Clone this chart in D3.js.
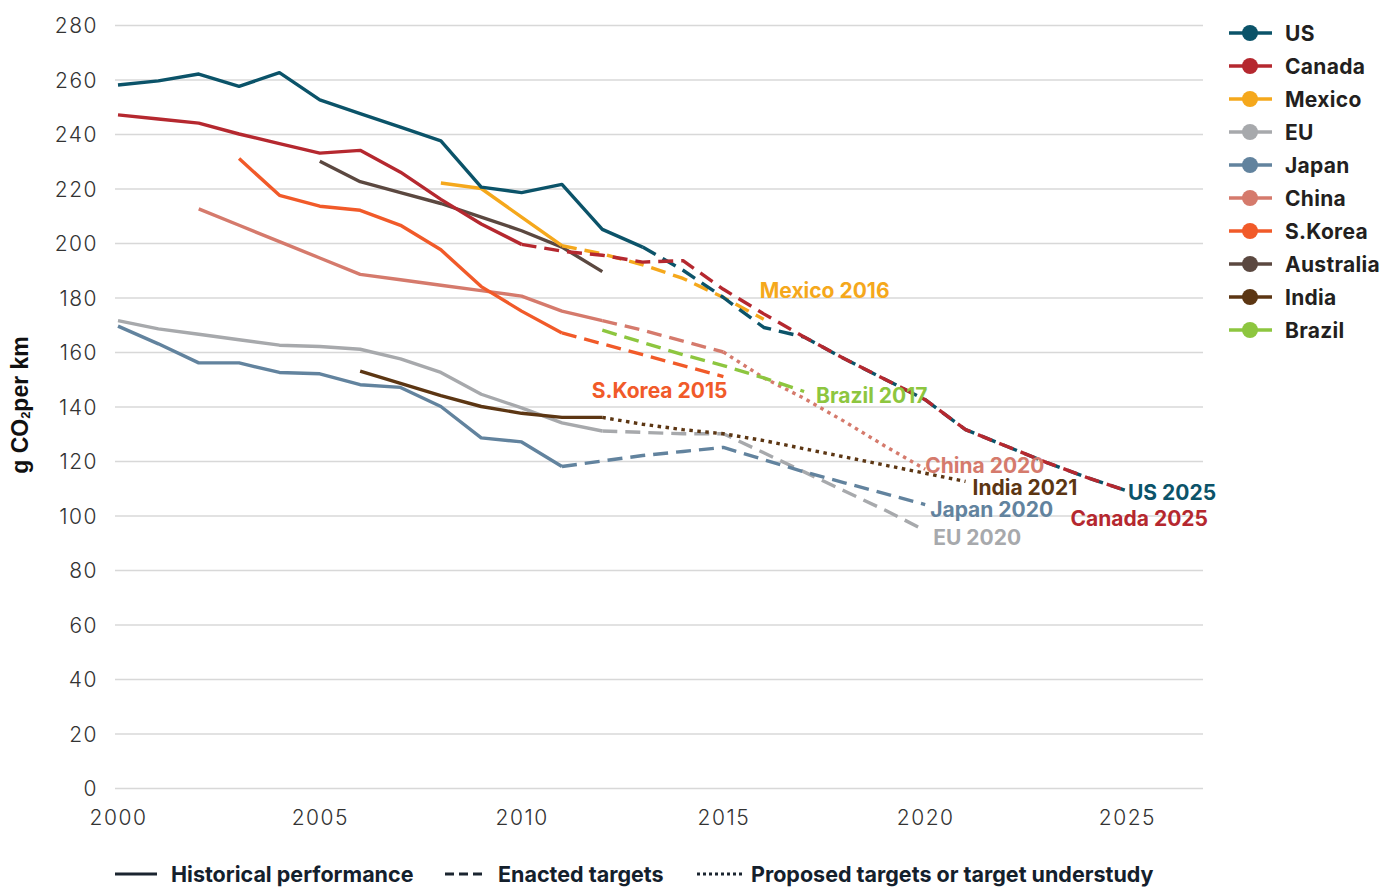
<!DOCTYPE html>
<html><head><meta charset="utf-8">
<script src="https://cdn.jsdelivr.net/npm/d3@7"></script>
<style>body{margin:0;background:#fff}svg{display:block}</style>
</head><body>
<svg id="c" width="1381" height="888"></svg>
<script>
// ---------- data ----------
const countries = ["US","Canada","Mexico","EU","Japan","China","S.Korea","Australia","India","Brazil"];
const colors    = ["#0b5369","#b5282f","#f5a81c","#a7a9ac","#62839e","#d57a6c","#f15a29","#5b4840","#5c3613","#8dc63f"];
const yTicks = [0,20,40,60,80,100,120,140,160,180,200,220,240,260,280];
const xTicks = [2000,2005,2010,2015,2020,2025];

// historical performance (start year, yearly values)
const usHistStart = 2000,     usHist = [258,259.5,262,257.5,262.5,252.5,247.5,242.5,237.5,220.5,218.5,221.5,205,198.5];
const canadaHistStart = 2000, canadaHist = [247,245.5,244,240,236.5,233,234,226,216,207,199.5];
const mexicoHistStart = 2008, mexicoHist = [222,220,209.5,199];
const euHistStart = 2000,     euHist = [171.5,168.5,166.5,164.5,162.5,162,161,157.5,152.5,144.5,139.5,134,131];
const japanHistStart = 2000,  japanHist = [169.5,163,156,156,152.5,152,148,147,140,128.5,127,118];
const chinaHistStart = 2002,  chinaHist = [212.5,206.5,200.5,194.5,188.5,186.5,184.5,182.5,180.5,175,171.5];
const koreaHistStart = 2003,  koreaHist = [231,217.5,213.5,212,206.5,197.5,184,175,167];
const australiaHistStart = 2005, australiaHist = [230,222.5,218.5,214.5,209.5,204.5,198.5,189.5];
const indiaHistStart = 2006,  indiaHist = [153,148.5,144,140,137.5,136,136];

// enacted targets
const usTargetStart = 2013,     usTarget = [198.5,190,180,169,165.5,157.5,150,142.5,131.5,125.5,119.5,114,109];
const canadaTargetStart = 2010, canadaTarget = [199.5,197,195.5,193,193.5,183,174,165.5,157.5,150,142.5,131.5,125.5,119.5,114,109];
const mexicoTargetStart = 2011, mexicoTarget = [199,196,192,187,180,172];
const euTargetStart = 2012,     euTarget = [131,130.5,130,130,123,116,109,102,94.5];
const japanTargetStart = 2011,  japanTarget = [118,120,122,123.5,125,120.5,116,112,108,104];
const chinaTargetStart = 2012,  chinaTarget = [171.5,168,164,160];
const koreaTargetStart = 2011,  koreaTarget = [167,163,159,155,151];
const brazilTargetStart = 2012, brazilTarget = [168,163.5,159,155,150.5,145.5];

// proposed targets / target understudy
const chinaProposedStart = 2015, chinaProposed = [160,150.5,143,134.5,125.5,117];
const indiaProposedStart = 2012, indiaProposed = [136,133.5,131.5,130,127.5,124.5,121.5,118.5,115.5,112.5];

const styleLabels = ["Historical performance","Enacted targets","Proposed targets or target understudy"];
const targetLabels = ["Mexico 2016","S.Korea 2015","Brazil 2017","China 2020","India 2021","Japan 2020","EU 2020","US 2025","Canada 2025"];

// ---------- build series table ----------
const seg = (country, kind, start, values) => ({country, kind, pts: values.map((v,i)=>[start+i, v])});
const segments = [
  seg("EU","hist",euHistStart,euHist), seg("EU","target",euTargetStart,euTarget),
  seg("Japan","hist",japanHistStart,japanHist), seg("Japan","target",japanTargetStart,japanTarget),
  seg("India","hist",indiaHistStart,indiaHist), seg("India","proposed",indiaProposedStart,indiaProposed),
  seg("China","hist",chinaHistStart,chinaHist), seg("China","target",chinaTargetStart,chinaTarget), seg("China","proposed",chinaProposedStart,chinaProposed),
  seg("Brazil","target",brazilTargetStart,brazilTarget),
  seg("S.Korea","hist",koreaHistStart,koreaHist), seg("S.Korea","target",koreaTargetStart,koreaTarget),
  seg("Australia","hist",australiaHistStart,australiaHist),
  seg("Mexico","hist",mexicoHistStart,mexicoHist), seg("Mexico","target",mexicoTargetStart,mexicoTarget),
  seg("US","target",usTargetStart,usTarget),
  seg("Canada","hist",canadaHistStart,canadaHist), seg("Canada","target",canadaTargetStart,canadaTarget),
  seg("US","hist",usHistStart,usHist)
];
const color = d3.scaleOrdinal().domain(countries).range(colors);
const dashes = {hist:null, target:"15,8", proposed:"3.5,4.5"};

// ---------- chart ----------
const svg = d3.select("#c");
const x = d3.scaleLinear().domain([2000,2027]).range([118,1207.7]);
const y = d3.scaleLinear().domain([0,280]).range([788,25]);
const gridLeft = 115, gridRight = 1203;
const FONT = "Inter, 'Open Sans', sans-serif";

// y axis with gridlines
const yAxis = svg.append("g").attr("transform",`translate(${gridLeft},0)`)
  .call(d3.axisLeft(y).tickValues(yTicks).tickSize(-(gridRight-gridLeft)).tickPadding(17).tickFormat(d3.format("d")));
yAxis.select(".domain").remove();
yAxis.selectAll(".tick line").attr("stroke","#d8d8d8").attr("stroke-width",1.6);
yAxis.selectAll(".tick text").attr("fill","#333").attr("dy",null).attr("dominant-baseline","central")
  .style("font-family",FONT).style("font-weight",300).style("font-size","21px").style("letter-spacing","1.5px");

// x axis labels
const xAxis = svg.append("g").attr("transform",`translate(0,${y(0)})`)
  .call(d3.axisBottom(x).tickValues(xTicks).tickSize(0).tickFormat(d3.format("d")));
xAxis.select(".domain").remove();
xAxis.selectAll(".tick text").attr("fill","#333").attr("dy",null).attr("y",29).attr("dominant-baseline","central")
  .style("font-family",FONT).style("font-weight",300).style("font-size","21px").style("letter-spacing","1.5px");

// y label
svg.append("text").attr("transform",`translate(20,405) rotate(-90)`).attr("text-anchor","middle")
  .attr("dominant-baseline","central")
  .style("font-family","'Liberation Sans', Arial, sans-serif").style("font-weight",700).style("font-size","23px").attr("fill","#111")
  .call(t=>{ t.append("tspan").text("g CO"); t.append("tspan").attr("dy",5).style("font-size","13px").text("2");
             t.append("tspan").attr("dy",-5).text("per km"); });

// lines
const line = d3.line().x(d=>x(d[0])).y(d=>y(d[1]));
svg.append("g").selectAll("path").data(segments).join("path")
  .attr("d",d=>line(d.pts)).attr("fill","none")
  .attr("stroke",d=>color(d.country)).attr("stroke-width",3.4)
  .attr("stroke-linejoin","round")
  .attr("stroke-dasharray",d=>dashes[d.kind]);

// end labels
const labelCfg = [
  {c:"Mexico",  dx:-4, dy:-29, a:"start"},
  {c:"S.Korea", dx:4,  dy:14,  a:"end"},
  {c:"Brazil",  dx:12, dy:4,   a:"start"},
  {c:"China",   dx:0,  dy:-4,  a:"start"},
  {c:"India",   dx:7,  dy:6,   a:"start"},
  {c:"Japan",   dx:5,  dy:5,   a:"start"},
  {c:"EU",      dx:8,  dy:7,   a:"start"},
  {c:"US",      dx:1,  dy:2,   a:"start"},
  {c:"Canada",  dx:81, dy:28,  a:"end"}
];
const lastPt = c => { const s = segments.filter(d=>d.country===c && d.kind!=="hist"); const p = s.map(d=>d.pts[d.pts.length-1]).sort((a,b)=>b[0]-a[0]); return p[0]; };
svg.append("g").selectAll("text").data(labelCfg).join("text")
  .attr("x",(d)=>x(lastPt(d.c)[0])+d.dx).attr("y",d=>y(lastPt(d.c)[1])+d.dy)
  .attr("text-anchor",d=>d.a).attr("dominant-baseline","central")
  .attr("fill",d=>color(d.c))
  .style("font-family",FONT).style("font-weight",700).style("font-size","21px")
  .text((d,i)=>targetLabels[i]);

// right legend
const leg = svg.append("g").selectAll("g").data(countries).join("g")
  .attr("transform",(d,i)=>`translate(0,${33+33*i})`);
leg.append("line").attr("x1",1229).attr("x2",1272).attr("stroke",d=>color(d)).attr("stroke-width",3.5);
leg.append("circle").attr("cx",1250).attr("r",8).attr("fill",d=>color(d));
leg.append("text").attr("x",1285).attr("dominant-baseline","central").attr("fill","#231f20")
  .style("font-family",FONT).style("font-weight",700).style("font-size","21px").style("letter-spacing","0.3px").text(d=>d);

// bottom legend
const bl = [
  {x1:115,x2:157,tx:171,dash:null},
  {x1:445,x2:487,tx:498,dash:"9,5"},
  {x1:697,x2:742,tx:751,dash:"3,3"}
];
const bg = svg.append("g").selectAll("g").data(bl).join("g").attr("transform","translate(0,874)");
bg.append("line").attr("x1",d=>d.x1).attr("x2",d=>d.x2).attr("stroke","#1b2530").attr("stroke-width",3).attr("stroke-dasharray",d=>d.dash);
bg.append("text").attr("x",d=>d.tx).attr("dominant-baseline","central").attr("fill","#14202c")
  .style("font-family",FONT).style("font-weight",700).style("font-size","21.5px")
  .text((d,i)=>styleLabels[i]);
</script>
</body></html>
